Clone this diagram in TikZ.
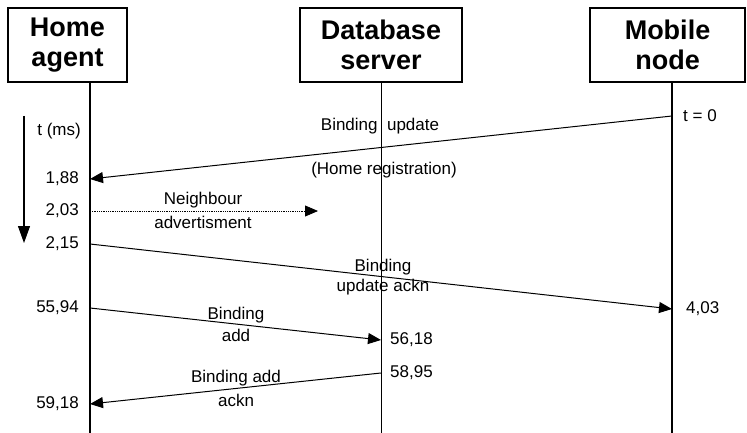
\documentclass[tikz,border=0pt]{standalone}
\usepackage{fontspec}
\setmainfont{Liberation Sans}
\usetikzlibrary{arrows.meta}
\tikzset{
  actor/.style={draw,line width=1.1pt,minimum width=#1,minimum height=74pt,inner sep=0pt,align=center,
    font=\fontsize{27}{30}\selectfont\bfseries},
  life/.style={line width=1.1pt},
  msg/.style={line width=1pt,-{Triangle[length=13pt,width=11pt]}},
  dmsg/.style={line width=0.8pt,densely dotted,-{Triangle[length=13pt,width=11pt]}},
  lbl/.style={inner sep=0pt,font=\fontsize{17}{21}\selectfont},
}
\begin{document}
\begin{tikzpicture}[x=1pt,y=-1pt]
\useasboundingbox (0,0) rectangle (747,433);
% actors
\node[actor=119pt] (ha) at (67.5,45) {Home\\agent};
\node[actor=162pt] (db) at (381,45) {Database\\server};
\node[actor=155pt] (mn) at (667.5,45) {Mobile\\node};
% lifelines
\coordinate (haend) at (90,433);
\coordinate (dbend) at (381,433);
\coordinate (mnend) at (672,433);
\draw[life] (90,82) -- (haend);
\draw[life,line width=0.8pt] (381,82) -- (dbend);
\draw[life] (672,82) -- (mnend);
% time axis
\coordinate (tstart) at (24,116);
\coordinate (tend) at (24,243);
\draw[line width=1.1pt,-{Triangle[length=17pt,width=12pt]}] (tstart) -- (tend);
\node[lbl,anchor=east] (tms) at (81,131) {t (ms)};
% time labels
\node[lbl,anchor=west] (t0) at (683,116) {t = 0};
\node[lbl,anchor=east] (l188) at (79,179) {1,88};
\node[lbl,anchor=east] (l203) at (79,211) {2,03};
\node[lbl,anchor=east] (l215) at (79,244) {2,15};
\node[lbl,anchor=east] (l5594) at (79,308) {55,94};
\node[lbl,anchor=east] (l5918) at (79,404) {59,18};
\node[lbl,anchor=west] (l403) at (686,309) {4,03};
\node[lbl,anchor=west] (l5618) at (390,340) {56,18};
\node[lbl,anchor=west] (l5895) at (390,373) {58,95};
% message points
\coordinate (m1s) at (672,116);
\coordinate (m1e) at (90,179);
\coordinate (m2s) at (90,211);
\coordinate (m2e) at (318,211);
\coordinate (m3s) at (90,244);
\coordinate (m3e) at (672,309);
\coordinate (m4s) at (90,308);
\coordinate (m4e) at (381,340);
\coordinate (m5s) at (381,373);
\coordinate (m5e) at (90,404);
% messages
\draw[msg] (m1s) -- (m1e);
\draw[dmsg] (m2s) -- (m2e);
\draw[msg] (m3s) -- (m3e);
\draw[msg] (m4s) -- (m4e);
\draw[msg] (m5s) -- (m5e);
% message labels
\node[lbl] (bu) at (380,126) {Binding\ \ update};
\node[lbl] (hr) at (384,170) {(Home registration)};
\node[lbl] (nb1) at (203,200) {Neighbour};
\node[lbl] (nb2) at (203,222) {advertisment};
\node[lbl] (ua1) at (383,267) {Binding};
\node[lbl] (ua2) at (383,287) {update ackn};
\node[lbl] (ba1) at (236,315) {Binding};
\node[lbl] (ba2) at (236,335) {add};
\node[lbl] (bk1) at (236,378) {Binding add};
\node[lbl] (bk2) at (236,400) {ackn};
\end{tikzpicture}
\end{document}
